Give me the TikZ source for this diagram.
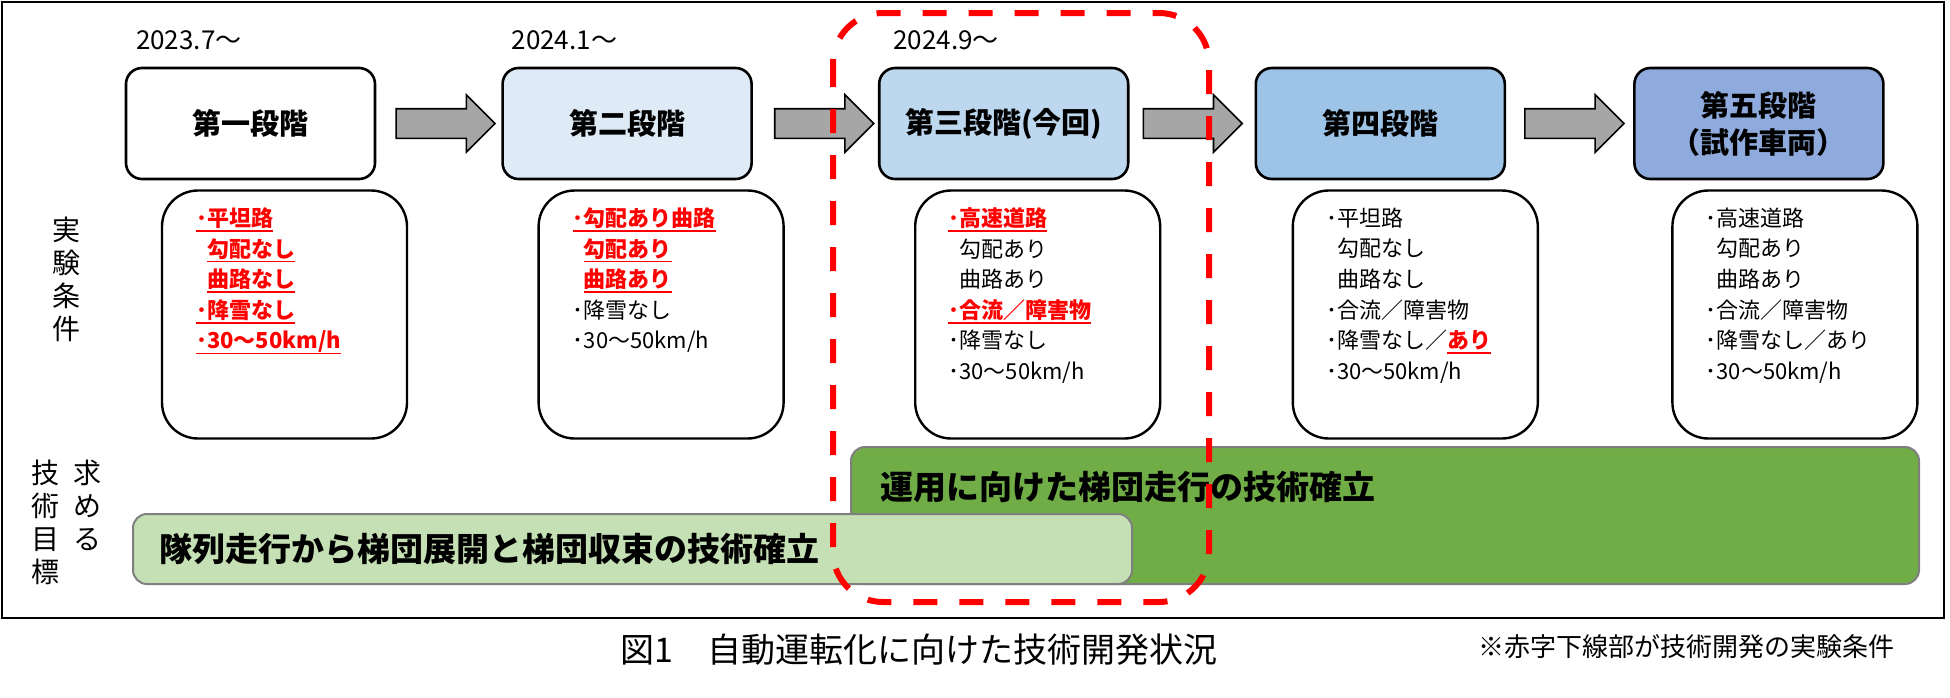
\documentclass[tikz,border=0pt]{standalone}
\usepackage{fontspec}
\setmainfont{Noto Sans CJK JP}
\usepackage{tikz}
\usetikzlibrary{positioning,shapes.arrows}
\definecolor{stagetwo}{HTML}{DEEBF7}
\definecolor{stagethree}{HTML}{BDD7EE}
\definecolor{stagefour}{HTML}{9DC3E6}
\definecolor{stagefive}{HTML}{8FAADC}
\definecolor{arrowgray}{HTML}{A6A6A6}
\definecolor{darkgoal}{HTML}{70AD47}
\definecolor{lightgoal}{HTML}{C5E0B4}
\definecolor{bargray}{HTML}{7F7F7F}
\newcommand{\redul}[1]{{\color{red}\bfseries\setbox0\hbox{#1}\rlap{\rule[-2.6pt]{\wd0}{0.8pt}}\box0}}
\newcommand{\ind}{\hphantom{･}}

\begin{document}
\begin{tikzpicture}[x=0.5pt,y=-0.5pt,
  stagebox/.style={draw,line width=1.3pt,rounded corners=8pt,minimum width=124.5pt,minimum height=55.5pt,align=center,font=\fontsize{14.5pt}{18.5pt}\selectfont\bfseries},
  condbox/.style={draw,line width=1.2pt,rounded corners=18pt,minimum width=122.5pt,minimum height=124pt},
  condtext/.style={inner sep=0pt,align=left,font=\fontsize{11pt}{15.3pt}\selectfont},
  blockarrow/.style={single arrow,draw,line width=0.8pt,fill=arrowgray,inner sep=7pt,single arrow head extend=7pt,minimum height=49.5pt},
  datelabel/.style={inner sep=0pt,font=\fontsize{13pt}{15pt}\selectfont},
  sidelabel/.style={inner sep=0pt,align=center,font=\fontsize{14pt}{16.5pt}\selectfont},
  goalbar/.style={draw=bargray,line width=1pt,rounded corners=7pt},
  goaltext/.style={inner sep=0pt,font=\fontsize{16.5pt}{18pt}\selectfont\bfseries},
  focusline/.style={draw=red,line width=3pt,rounded corners=25pt,dash pattern=on 12pt off 11pt}]
\useasboundingbox (0,0) rectangle (1950,697);
\draw[line width=1.3pt] (2,2) rectangle (1944,618);

\node[stagebox] (s1) at (250.5,123.5) {第一段階};
\node[stagebox,fill=stagetwo,right=62.5pt of s1] (s2) {第二段階};
\node[stagebox,fill=stagethree,right=62.5pt of s2] (s3) {第三段階(今回)};
\node[stagebox,fill=stagefour,right=62.5pt of s3] (s4) {第四段階};
\node[stagebox,fill=stagefive,right=63.5pt of s4] (s5) {第五段階\\（試作車両）};

\node[blockarrow,right=9.5pt of s1] (a12) {};
\node[blockarrow,right=10.5pt of s2] (a23) {};
\node[blockarrow,right=6.5pt of s3] (a34) {};
\node[blockarrow,right=9pt of s4] (a45) {};

\node[datelabel,above right=8pt and 5.5pt of s1.north west] (d1) {2023.7～};
\node[datelabel,above right=8pt and 5pt of s2.north west] (d2) {2024.1～};
\node[datelabel,above right=8pt and 7.5pt of s3.north west] (d3) {2024.9～};

\node[condbox,below=4.5pt of s1,xshift=17pt] (c1) {};
\node[condbox,below=4.5pt of s2,xshift=17pt] (c2) {};
\node[condbox,below=4.5pt of s3,xshift=17pt] (c3) {};
\node[condbox,below=4.5pt of s4,xshift=17.5pt] (c4) {};
\node[condbox,below=4.5pt of s5,xshift=18pt] (c5) {};

\node[condtext,below right=9pt and 17.5pt of c1.north west] (t1)
{\redul{･平坦路}\\ \ind\redul{勾配なし}\\ \ind\redul{曲路なし}\\ \redul{･降雪なし}\\ \redul{･30～50km/h}};
\node[condtext,below right=9pt and 17.5pt of c2.north west] (t2)
{\redul{･勾配あり曲路}\\ \ind\redul{勾配あり}\\ \ind\redul{曲路あり}\\ ･降雪なし\\ ･30～50km/h};
\node[condtext,below right=9pt and 17pt of c3.north west] (t3)
{\redul{･高速道路}\\ \ind 勾配あり\\ \ind 曲路あり\\ \redul{･合流／障害物}\\ ･降雪なし\\ ･30～50km/h};
\node[condtext,below right=9pt and 17pt of c4.north west] (t4)
{･平坦路\\ \ind 勾配なし\\ \ind 曲路なし\\ ･合流／障害物\\ ･降雪なし／\redul{あり}\\ ･30～50km/h};
\node[condtext,below right=9pt and 17pt of c5.north west] (t5)
{･高速道路\\ \ind 勾配あり\\ \ind 曲路あり\\ ･合流／障害物\\ ･降雪なし／あり\\ ･30～50km/h};

\node[sidelabel] (condlabel) at (67,279) {実\\験\\条\\件};
\node[sidelabel,anchor=north] (goallabela) at (87,460) {求\\め\\る};
\node[sidelabel,anchor=north] (goallabelb) at (46,460) {技\\術\\目\\標};

\node[goalbar,fill=darkgoal,minimum width=534pt,minimum height=68.5pt] (goaltwo) at (1385,515.5) {};
\node[goaltext,below right=12.5pt and 15pt of goaltwo.north west] (goaltwotxt) {運用に向けた梯団走行の技術確立};
\node[goalbar,fill=lightgoal,minimum width=499.5pt,minimum height=35pt] (goalone) at (632.5,549) {};
\node[goaltext,right=13.5pt of goalone.west] (goalonetxt) {隊列走行から梯団展開と梯団収束の技術確立};

\draw[focusline] (833,13) rectangle (1209,602);

\node[font=\fontsize{17pt}{20pt}\selectfont] (caption) at (919,650) {図1　自動運転化に向けた技術開発状況};
\node[font=\fontsize{13pt}{15pt}\selectfont] (note) at (1686.5,647) {※赤字下線部が技術開発の実験条件};
\end{tikzpicture}
\end{document}
